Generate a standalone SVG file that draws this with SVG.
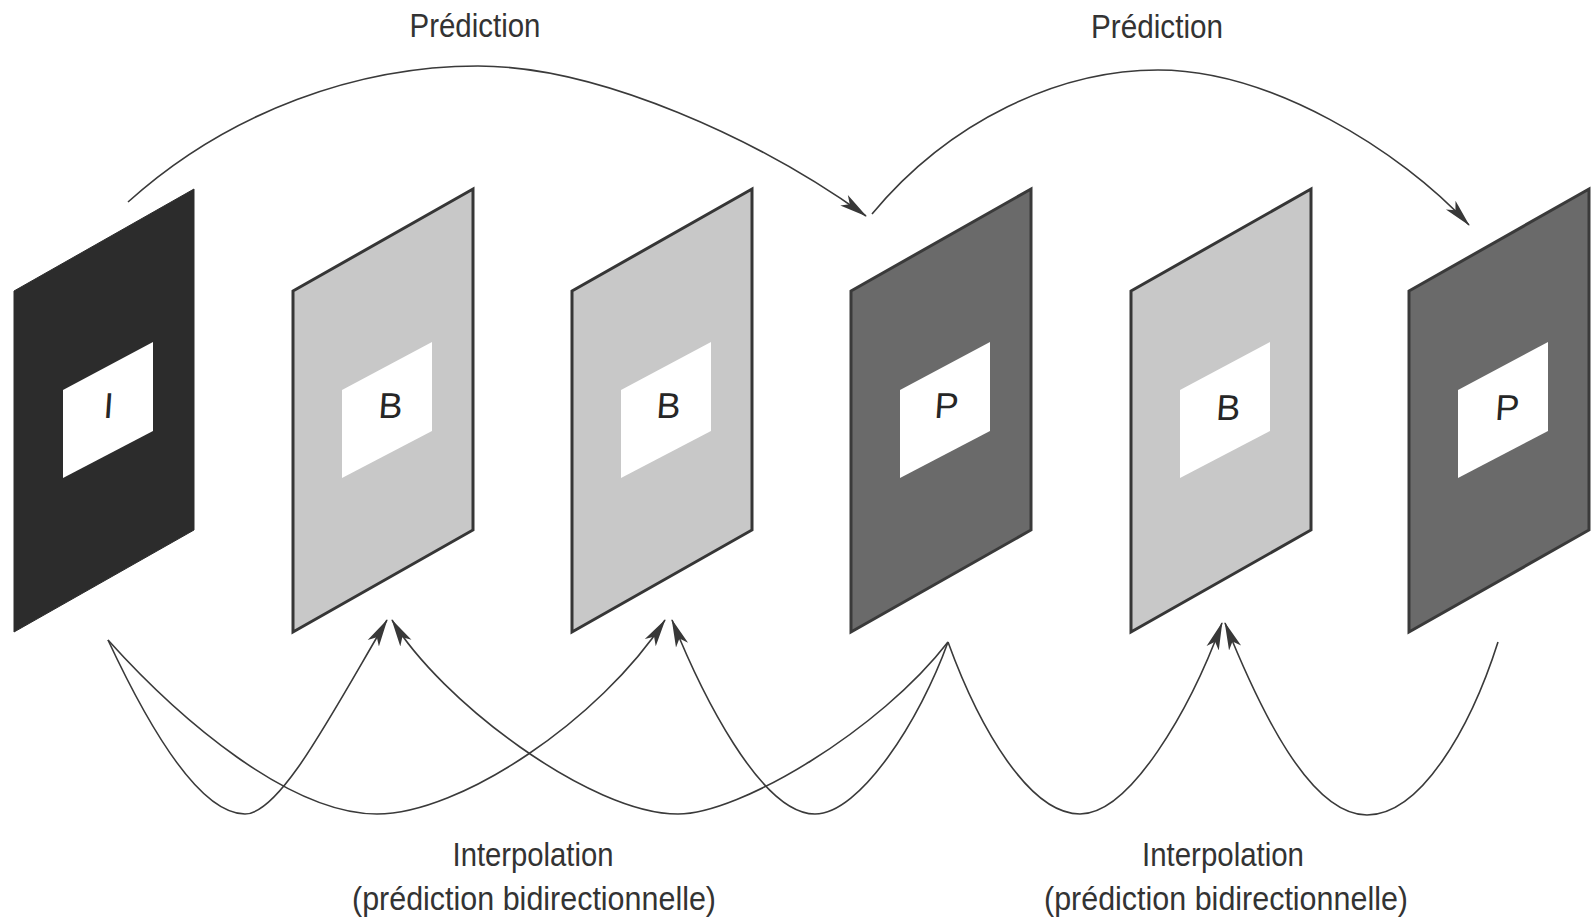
<svg xmlns="http://www.w3.org/2000/svg" xmlns:xlink="http://www.w3.org/1999/xlink" width="1595" height="920" viewBox="0 0 1595 920">
<style>
.lbl{font-family:"Liberation Sans",Arial,sans-serif;font-size:33px;fill:#333333;text-anchor:middle}
.let{font-family:"Liberation Sans",Arial,sans-serif;font-size:36px;fill:#262626;text-anchor:middle}
.con{fill:none;stroke:#3a3a3a;stroke-width:1.6;marker-end:url(#ah)}
.fI{fill:#2c2c2c;stroke:#2c2c2c;stroke-width:1}
.fB{fill:#c8c8c8;stroke:#363636;stroke-width:3}
.fP{fill:#6a6a6a;stroke:#3a3a3a;stroke-width:3}
.win{fill:#ffffff}
</style>
<defs>
<polygon id="frame" points="0,291 180,189 180,530 0,632"/>
<polygon id="win" points="49,390 139,342 139,431 49,478"/>
<marker id="ah" markerUnits="userSpaceOnUse" markerWidth="28" markerHeight="16" viewBox="0 0 28 16" refX="27" refY="8" orient="auto">
<path d="M0,1.5 L28,8 L0,14.5 L7,8 z" fill="#383838"/>
</marker>
</defs>
<rect width="1595" height="920" fill="#ffffff"/>

<g id="frame-I" transform="translate(14,0)">
<use xlink:href="#frame" class="fI"/>
<use xlink:href="#win" class="win"/>
<text class="let" x="94" y="418" transform="skewX(-4) translate(29,0)">I</text>
</g>
<g id="frame-B1" transform="translate(293,0)">
<use xlink:href="#frame" class="fB"/>
<use xlink:href="#win" class="win"/>
<text class="let" x="97" y="418" transform="skewX(-4) translate(29,0)">B</text>
</g>
<g id="frame-B2" transform="translate(572,0)">
<use xlink:href="#frame" class="fB"/>
<use xlink:href="#win" class="win"/>
<text class="let" x="96" y="418" transform="skewX(-4) translate(29,0)">B</text>
</g>
<g id="frame-P1" transform="translate(851,0)">
<use xlink:href="#frame" class="fP"/>
<use xlink:href="#win" class="win"/>
<text class="let" x="95" y="418" transform="skewX(-4) translate(29,0)">P</text>
</g>
<g id="frame-B3" transform="translate(1131,0)">
<use xlink:href="#frame" class="fB"/>
<use xlink:href="#win" class="win"/>
<text class="let" x="97" y="420" transform="skewX(-4) translate(29,0)">B</text>
</g>
<g id="frame-P2" transform="translate(1409,0)">
<use xlink:href="#frame" class="fP"/>
<use xlink:href="#win" class="win"/>
<text class="let" x="98" y="420" transform="skewX(-4) translate(29,0)">P</text>
</g>

<g id="connectors">
<path class="con" d="M128,202 C230,110 360,66 478,66 C600,66 760,140 866,216"/>
<path class="con" d="M872,214 C950,120 1060,70 1158,70 C1270,70 1400,150 1469,225"/>
<path class="con" d="M108,640 C150,730 200,814 245,814 C280,814 331,715 387,620"/>
<path class="con" d="M108,640 C180,720 290,814 377,814 C460,814 600,720 665,620"/>
<path class="con" d="M948,642 C880,730 740,814 678,814 C590,814 440,700 392,620"/>
<path class="con" d="M948,642 C920,720 860,814 815,814 C760,814 700,690 672,620"/>
<path class="con" d="M948,642 C980,730 1030,814 1080,814 C1130,814 1190,710 1222,623"/>
<path class="con" d="M1498,642 C1470,730 1420,815 1367,815 C1310,815 1260,710 1225,623"/>
</g>

<g id="labels">
<text class="lbl" x="475" y="37" textLength="131" lengthAdjust="spacingAndGlyphs">Prédiction</text>
<text class="lbl" x="1157" y="38" textLength="132" lengthAdjust="spacingAndGlyphs">Prédiction</text>
<text class="lbl" x="533" y="866" textLength="161" lengthAdjust="spacingAndGlyphs">Interpolation</text>
<text class="lbl" x="534" y="910" textLength="364" lengthAdjust="spacingAndGlyphs">(prédiction bidirectionnelle)</text>
<text class="lbl" x="1223" y="866" textLength="162" lengthAdjust="spacingAndGlyphs">Interpolation</text>
<text class="lbl" x="1226" y="910" textLength="364" lengthAdjust="spacingAndGlyphs">(prédiction bidirectionnelle)</text>
</g>
</svg>
